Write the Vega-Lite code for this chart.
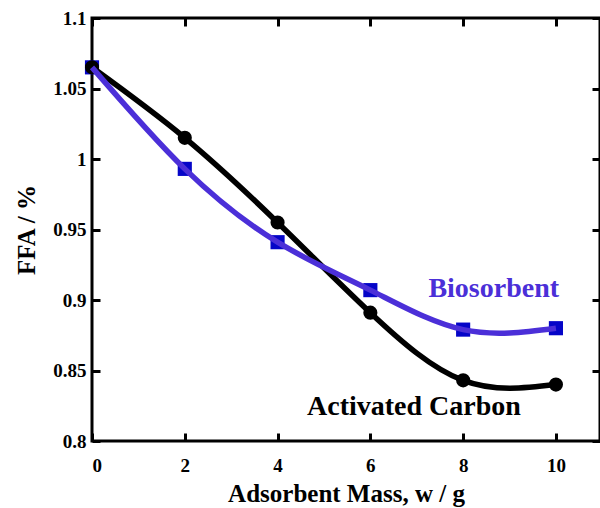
{
  "$schema": "https://vega.github.io/schema/vega-lite/v6.json",
  "width": 508,
  "height": 423,
  "autosize": {"type": "none"},
  "padding": {"left": 92, "top": 18, "right": 0, "bottom": 67},
  "background": "white",
  "config": {
    "view": {"stroke": "black", "strokeWidth": 3},
    "font": "Liberation Serif",
    "axis": {
      "grid": false,
      "domain": false,
      "tickColor": "black",
      "tickWidth": 3,
      "tickSize": -8,
      "labelFont": "Liberation Serif",
      "labelFontWeight": "bold",
      "labelFontSize": 19,
      "labelColor": "black",
      "titleFont": "Liberation Serif",
      "titleFontWeight": "bold",
      "titleFontSize": 25,
      "titleColor": "black"
    }
  },
  "datasets": {
    "ac": [
      {"w": 0, "ffa": 1.065},
      {"w": 2, "ffa": 1.015},
      {"w": 4, "ffa": 0.955},
      {"w": 6, "ffa": 0.891},
      {"w": 8, "ffa": 0.843},
      {"w": 10, "ffa": 0.840}
    ],
    "bio": [
      {"w": 0, "ffa": 1.065},
      {"w": 2, "ffa": 0.993},
      {"w": 4, "ffa": 0.941},
      {"w": 6, "ffa": 0.907},
      {"w": 8, "ffa": 0.879},
      {"w": 10, "ffa": 0.880}
    ],
    "lab": [
      {"w": 8.66, "ffa": 0.902, "text": "Biosorbent", "series": "bio"},
      {"w": 6.94, "ffa": 0.8184, "text": "Activated Carbon", "series": "ac"}
    ]
  },
  "resolve": {"axis": {"x": "independent", "y": "independent"}},
  "layer": [
    {
      "data": {"name": "bio"},
      "mark": {"type": "point", "shape": "square", "filled": true, "size": 200, "color": "#0505C8", "opacity": 1},
      "encoding": {
        "x": {"field": "w", "type": "quantitative", "scale": {"domain": [0, 10.95], "nice": false, "zero": false},
          "axis": {"title": "Adsorbent Mass, w / g", "values": [0, 2, 4, 6, 8, 10], "labelPadding": 23, "titlePadding": 6}},
        "y": {"field": "ffa", "type": "quantitative", "scale": {"domain": [0.8, 1.1], "nice": false, "zero": false},
          "axis": {"title": "FFA / %", "values": [0.8, 0.85, 0.9, 0.95, 1, 1.05, 1.1], "format": ".2~f", "labelPadding": 14, "titlePadding": 13}}
      }
    },
    {
      "data": {"name": "ac"},
      "mark": {"type": "line", "interpolate": "natural", "color": "black", "strokeWidth": 5.5},
      "encoding": {
        "x": {"field": "w", "type": "quantitative", "scale": {"domain": [0, 10.95], "nice": false, "zero": false},
          "axis": {"orient": "top", "labels": false, "title": null, "values": [0, 2, 4, 6, 8, 10]}},
        "y": {"field": "ffa", "type": "quantitative", "scale": {"domain": [0.8, 1.1], "nice": false, "zero": false},
          "axis": {"orient": "right", "labels": false, "title": null, "values": [0.8, 0.85, 0.9, 0.95, 1, 1.05, 1.1]}}
      }
    },
    {
      "data": {"name": "ac"},
      "mark": {"type": "point", "shape": "circle", "filled": true, "size": 200, "color": "black", "opacity": 1},
      "encoding": {
        "x": {"field": "w", "type": "quantitative", "axis": null},
        "y": {"field": "ffa", "type": "quantitative", "axis": null}
      }
    },
    {
      "data": {"name": "bio"},
      "mark": {"type": "line", "interpolate": "natural", "color": "#4B2FD8", "strokeWidth": 5.5},
      "encoding": {
        "x": {"field": "w", "type": "quantitative", "axis": null},
        "y": {"field": "ffa", "type": "quantitative", "axis": null}
      }
    },
    {
      "data": {"name": "lab"},
      "mark": {"type": "text", "font": "Liberation Serif", "fontWeight": "bold", "fontSize": 28, "align": "center", "baseline": "alphabetic"},
      "encoding": {
        "x": {"field": "w", "type": "quantitative", "axis": null},
        "y": {"field": "ffa", "type": "quantitative", "axis": null},
        "text": {"field": "text"},
        "color": {"field": "series", "type": "nominal", "scale": {"domain": ["bio", "ac"], "range": ["#4B2FD8", "black"]}, "legend": null}
      }
    }
  ]
}
